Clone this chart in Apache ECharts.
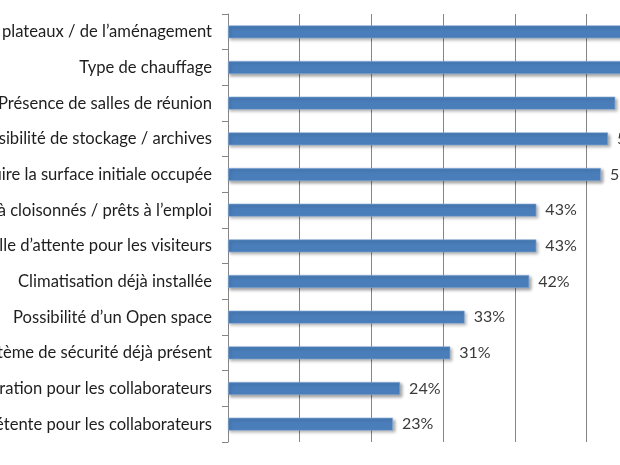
<!DOCTYPE html>
<html><head><meta charset="utf-8">
<script src="https://cdn.jsdelivr.net/npm/echarts@6/dist/echarts.min.js"></script>
<style>html,body{margin:0;padding:0;background:#fff}#c{width:620px;height:465px}</style>
</head><body><div id="c"></div>
<script>
const categories = [
  "Modularité des plateaux / de l’aménagement",
  "Type de chauffage",
  "Présence de salles de réunion",
  "Possibilité de stockage / archives",
  "Possibilité de réduire la surface initiale occupée",
  "Bureaux déjà cloisonnés / prêts à l’emploi",
  "Présence d’une salle d’attente pour les visiteurs",
  "Climatisation déjà installée",
  "Possibilité d’un Open space",
  "Système de sécurité déjà présent",
  "Espace de restauration pour les collaborateurs",
  "Espace de détente pour les collaborateurs"
];
const values = [62, 58, 54, 53, 52, 43, 43, 42, 33, 31, 24, 23];
const axisTicks = [0, 10, 20, 30, 40, 50, 60, 70];

const chart = echarts.init(document.getElementById('c'), null, {renderer: 'canvas'});
chart.setOption({
  animation: false,
  backgroundColor: '#ffffff',
  grid: {left: 228, top: 14, height: 428, width: 502, containLabel: false, outerBoundsMode: 'none'},
  xAxis: {
    type: 'value', min: axisTicks[0], max: axisTicks[axisTicks.length - 1], interval: 10,
    axisLabel: {show: false}, axisLine: {show: false}, axisTick: {show: false},
    splitLine: {show: true, lineStyle: {color: '#858585', width: 1}}
  },
  yAxis: {
    type: 'category', data: categories, inverse: true,
    axisLine: {show: true, lineStyle: {color: '#858585', width: 1}},
    axisTick: {show: true, length: 6, alignWithLabel: false, lineStyle: {color: '#858585'}},
    axisLabel: {margin: 16, fontSize: 16.6, color: '#1e1e1e', fontFamily: 'Lato'}
  },
  series: [{
    type: 'bar', data: values, barWidth: 13,
    itemStyle: {color: '#4a7ebb', borderColor: '#8fb0da', borderWidth: 0.6,
      shadowColor: 'rgba(0,0,0,0.35)', shadowBlur: 3, shadowOffsetX: 2, shadowOffsetY: 2},
    label: {show: true, position: 'right', distance: 9, formatter: '{c}%', fontSize: 16,
      color: '#3a3a3a', fontFamily: 'Lato'}
  }]
});
</script></body></html>
